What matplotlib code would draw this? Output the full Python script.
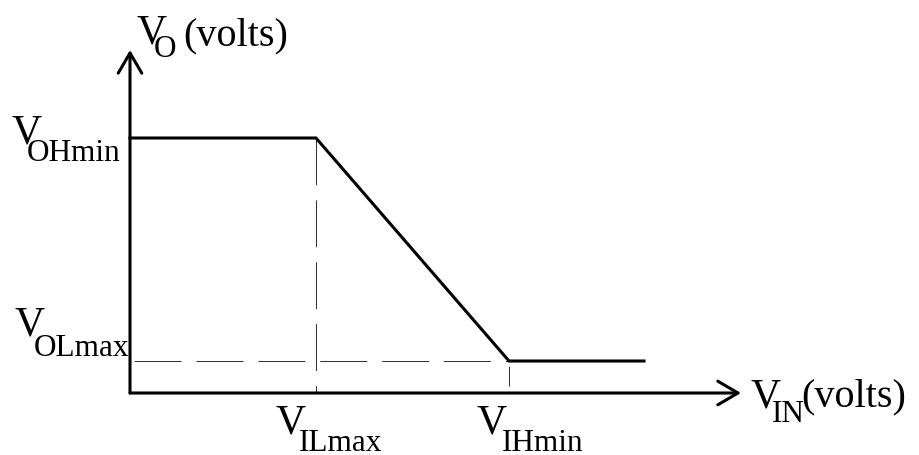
import matplotlib
matplotlib.use('Agg')
import matplotlib.pyplot as plt

# Voltage transfer characteristic (arbitrary units, origin at axis corner)
v_in = [0.0, 1.86, 3.79, 5.14]
v_out = [2.55, 2.55, 0.32, 0.32]

v_il_max = 1.86
v_ih_min = 3.79
v_oh_min = 2.55
v_ol_max = 0.32

x_axis_end = 6.11
y_axis_end = 3.43

plt.rcParams['font.family'] = ['Liberation Serif', 'DejaVu Serif']

fig = plt.figure(figsize=(9.2, 4.55), dpi=100)
ax = fig.add_axes([0, 0, 1, 1])
ax.set_xlim(-1.30, 7.90)
ax.set_ylim(-0.62, 3.93)
ax.axis('off')

# Axes with open arrow heads
arrow = dict(arrowstyle='->,head_length=1.45,head_width=0.85', lw=2.2,
             color='black', shrinkA=0, shrinkB=0, mutation_scale=10)
ax.annotate('', xy=(0, y_axis_end), xytext=(0, 0), arrowprops=arrow)
ax.annotate('', xy=(x_axis_end, 0), xytext=(0, 0), arrowprops=arrow)

# Dashed guide lines (pattern is scaled by the line width)
dash = dict(color='#333333', lw=0.75)
ax.plot([v_il_max, v_il_max], [v_oh_min, 0], linestyle=(0, (45, 14.4)), **dash)
ax.plot([0, v_ih_min], [v_ol_max, v_ol_max], linestyle=(-4, (45, 14.4)), **dash)
ax.plot([v_ih_min, v_ih_min], [v_ol_max, 0], linestyle=(-5, (19, 20)), **dash)

# Transfer curve
ax.plot(v_in, v_out, color='black', lw=2.2, solid_joinstyle='miter')

big = 30
small = 22.5


def label(x, y, sub, sx, sy, size=big, subsize=small):
    ax.text(x, y, 'V', fontsize=size, va='baseline', ha='left')
    ax.text(x + sx, y + sy, sub, fontsize=subsize, va='baseline', ha='left')


label(0.07, 3.50, 'O', 0.17, -0.14)
ax.text(0.53, 3.48, '(volts)', fontsize=29, va='baseline', ha='left')

label(-1.19, v_oh_min - 0.05, 'OHmin', 0.16, -0.18)
label(-1.16, v_ol_max + 0.26, 'OLmax', 0.20, -0.21)
label(v_il_max - 0.40, -0.41, 'ILmax', 0.23, -0.17)
label(v_ih_min - 0.32, -0.41, 'IHmin', 0.25, -0.17)
label(x_axis_end + 0.10, -0.14, 'IN', 0.21, -0.15)
ax.text(6.71, -0.13, '(volts)', fontsize=29, va='baseline', ha='left')

fig.savefig('out.png', dpi=100)
